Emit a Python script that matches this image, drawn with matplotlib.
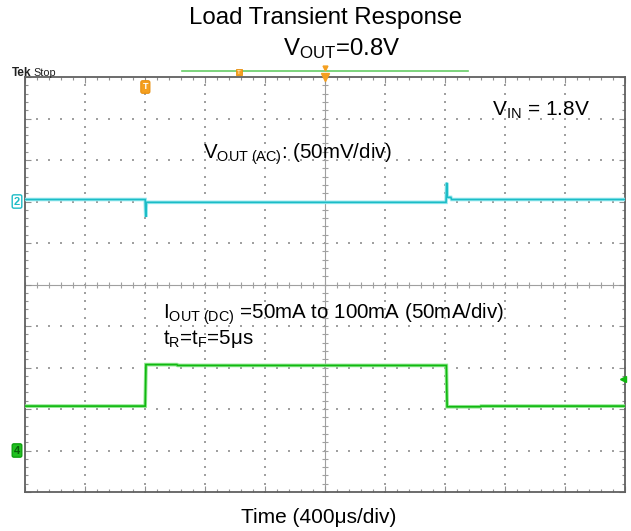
import matplotlib
matplotlib.use("Agg")
import matplotlib.pyplot as plt
import matplotlib.transforms as mtransforms
import numpy as np

plt.rcParams['font.family'] = ['Liberation Sans', 'DejaVu Sans']
plt.rcParams['mathtext.fontset'] = 'custom'
plt.rcParams['mathtext.rm'] = 'Liberation Sans'
plt.rcParams['mathtext.it'] = 'Liberation Sans'

# ---------------- data ----------------
# time axis: 400 us/div, 10 divisions
time_per_div_us = 400
n_xdiv = 10
n_ydiv = 10

# Channel 2: VOUT (AC), 50 mV/div, reference marker at +2 div
vout_t_us = [0, 804, 806, 808, 812, 2808, 2810, 2812, 2816, 2840, 2845, 4000]
vout_mv = [2.4, 2.4, -10.0, -18.7, -1.0, -1.0, 10.0, 22.6, 5.0, 5.0, 2.4, 2.4]
vout_scale_mv = 50
vout_ref_div = 2.0

# Channel 4: IOUT (DC), 50 mA/div, reference marker at -4 div
iout_t_us = [0, 804, 809, 1015, 1020, 2810, 2815, 3035, 3040, 4000]
iout_ma = [53.5, 53.5, 103.5, 103.5, 102.5, 102.5, 52.7, 52.7, 53.5, 53.5]
iout_scale_ma = 50
iout_ref_div = -4.0
trigger_level_ma = 86
trigger_t_us = 805

title_line1 = "Load Transient Response"
title_line2 = r"$\mathregular{V_{OUT}}$=0.8V"
label_vin = r"$\mathregular{V_{IN}}$ = 1.8V"
label_vout = r"$\mathregular{V_{OUT\ (AC)}}$: (50mV/div)"
label_iout = r"$\mathregular{I_{OUT\ (DC)}}$ =50mA to 100mA (50mA/div)"
label_tr = r"$\mathregular{t_{R}}$=$\mathregular{t_{F}}$=5μs"
label_time = "Time (400μs/div)"

# ---------------- figure ----------------
W, H = 631, 531
fig = plt.figure(figsize=(W / 100, H / 100), dpi=100)
fig.patch.set_facecolor('white')

def fx(x):
    return x / W

def fy(y):
    return 1 - y / H

L, R, T, B = 24.5, 625, 77, 492
ax = fig.add_axes([fx(L), fy(B), fx(R) - fx(L), fy(T) - fy(B)])
xmax = time_per_div_us * n_xdiv
ax.set_xlim(0, xmax)
ax.set_ylim(-n_ydiv / 2, n_ydiv / 2)

for s in ax.spines.values():
    s.set_color('#606060')
    s.set_linewidth(1.3)
ax.set_xticks(np.arange(0, xmax + 1, time_per_div_us))
ax.set_yticks(np.arange(-5, 6, 1))
ax.set_xticks(np.arange(0, xmax + 1, time_per_div_us / 5), minor=True)
ax.set_yticks(np.arange(-5, 5.01, 0.2), minor=True)
ax.tick_params(which='both', direction='in', top=True, right=True,
               labelbottom=False, labelleft=False, color='#909090', width=0.8)
ax.tick_params(which='major', length=4)
ax.tick_params(which='minor', length=2.5)

grid_col = '#a0a0a0'
# dotted grid
xs_dots = np.arange(0, xmax + 1, time_per_div_us / 5)
for j in range(-4, 5):
    if j == 0:
        continue
    ax.plot(xs_dots, np.full_like(xs_dots, j, dtype=float), ls='', marker='s',
            ms=1.5, mew=0, color=grid_col, zorder=1)
ys_dots = np.arange(-5, 5.01, 0.2)
for i in range(1, n_xdiv):
    if i == 5:
        continue
    xv = i * time_per_div_us
    ax.plot(np.full_like(ys_dots, xv), ys_dots, ls='', marker='s',
            ms=1.5, mew=0, color=grid_col, zorder=1)

# center cross with ticks
ax.axhline(0, color='#a0a0a0', lw=0.8, zorder=1)
ax.axvline(xmax / 2, color='#a0a0a0', lw=0.8, zorder=1)
ax.plot(xs_dots, np.zeros_like(xs_dots), ls='', marker='|', ms=4, mew=0.8,
        color='#a0a0a0', zorder=1)
ax.plot(np.full_like(ys_dots, xmax / 2), ys_dots, ls='', marker='_', ms=4,
        mew=0.8, color='#a0a0a0', zorder=1)

# traces
vout_div = vout_ref_div + np.array(vout_mv) / vout_scale_mv
iout_div = iout_ref_div + np.array(iout_ma) / iout_scale_ma
ax.plot(vout_t_us, vout_div, color='#9eeaf0', lw=2.6, zorder=3, solid_joinstyle='miter')
ax.plot(vout_t_us, vout_div, color='#1cbcc6', lw=1.2, zorder=4, solid_joinstyle='miter')
ax.plot(iout_t_us, iout_div, color='#8ee68e', lw=2.6, zorder=3, solid_joinstyle='miter')
ax.plot(iout_t_us, iout_div, color='#10b810', lw=1.2, zorder=4, solid_joinstyle='miter')

# trigger level arrow (right side)
trig_div = iout_ref_div + trigger_level_ma / iout_scale_ma
ax.plot([xmax - 15], [trig_div], marker='<', ms=5, color='#10b810', clip_on=False, zorder=5)

# channel markers (left)
blend_y = mtransforms.blended_transform_factory(fig.transFigure, ax.transData)
fig.text(fx(17), vout_ref_div, "2", transform=blend_y, ha='center', va='center',
         fontsize=8, color='#1cbcc6', fontweight='bold',
         bbox=dict(boxstyle='round,pad=0.15', fc='white', ec='#1cbcc6', lw=1))
fig.text(fx(17), iout_ref_div, "4", transform=blend_y, ha='center', va='center',
         fontsize=8, color='#0a600a', fontweight='bold',
         bbox=dict(boxstyle='round,pad=0.15', fc='#20c020', ec='#10a010', lw=1))

# trigger position marker
blend_x = mtransforms.blended_transform_factory(ax.transData, fig.transFigure)
fig.text(trigger_t_us, fy(87), "T", transform=blend_x, ha='center', va='center',
         fontsize=6.5, color='white', fontweight='bold',
         bbox=dict(boxstyle='round,pad=0.2', fc='#f5a020', ec='#e89010', lw=0.8))
# center expansion marker on top border
ax.plot([xmax / 2], [5], marker='v', ms=6, color='#f5a020', clip_on=False, zorder=6)

# record view bar above the graticule
fig.add_artist(plt.Line2D([fx(182), fx(468)], [fy(71), fy(71)], color='#66cc66', lw=1.2))
fig.text(fx(239), fy(72), "T", ha='center', va='center', fontsize=4.5, color='white',
         bbox=dict(boxstyle='square,pad=0.15', fc='#f5a020', ec='#e89010', lw=0.6))
fig.add_artist(plt.Line2D([fx(325)], [fy(68)], marker='v', ms=3.5, color='#f5a020', ls=''))

# Tek Stop
fig.text(fx(12), fy(76), "Tek", fontsize=8.5, fontweight='bold', color='#202020', va='baseline')
fig.text(fx(33), fy(76), "Stop", fontsize=7.8, color='#202020', va='baseline')

# titles and annotations
fig.text(fx(326), fy(18), title_line1, ha='center', va='center', fontsize=17.3, color='black')
fig.text(fx(283), fy(55), title_line2, ha='left', va='baseline', fontsize=17.3, color='black')
fig.text(fx(492), fy(116), label_vin, ha='left', va='baseline', fontsize=15, color='black')
fig.text(fx(203), fy(158.3), label_vout, ha='left', va='baseline', fontsize=14.8, color='black')
fig.text(fx(163), fy(319), label_iout, ha='left', va='baseline', fontsize=14.8, color='black')
fig.text(fx(163), fy(344), label_tr, ha='left', va='baseline', fontsize=14.8, color='black')
fig.text(fx(319), fy(523), label_time, ha='center', va='baseline', fontsize=15, color='black')

fig.savefig("out.png", dpi=100, facecolor='white')
